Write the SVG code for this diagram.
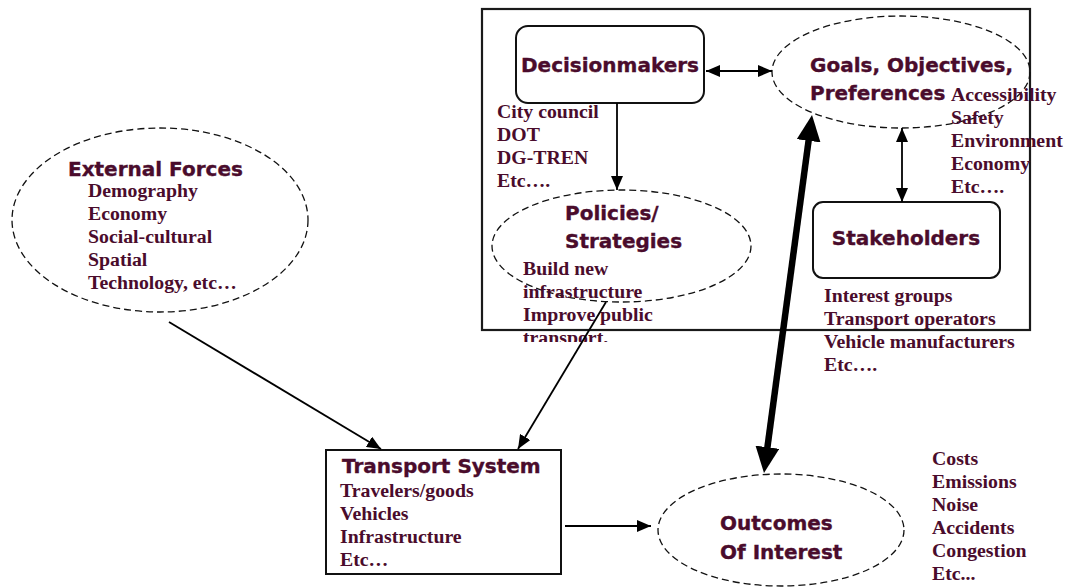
<svg xmlns="http://www.w3.org/2000/svg" width="1070" height="587" viewBox="0 0 1070 587">
  <style>
    .frame { fill: none; stroke: #1a1a1a; stroke-width: 2.2; }
    .box { fill: #ffffff; stroke: #111111; stroke-width: 2; }
    .oval { fill: none; stroke: #111111; stroke-width: 1.3; stroke-dasharray: 7 4; }
    .head { font-family: "DejaVu Sans", Verdana, sans-serif; font-weight: bold; font-size: 20px; fill: #4a0c2c; stroke: #4a0c2c; stroke-width: 0.35; }
    .item { font-family: "Liberation Serif", "Times New Roman", serif; font-weight: bold; font-size: 19.8px; fill: #4a0c2c; }
    .link { fill: none; stroke: #000000; stroke-width: 1.8; }
    .thick { fill: none; stroke: #000000; stroke-width: 6.5; }
  </style>
  <defs>
    <marker id="arrow" markerUnits="userSpaceOnUse" markerWidth="14" markerHeight="12" refX="14" refY="6" orient="auto-start-reverse">
      <path d="M0,0 L14,6 L0,12 z" fill="#000000"/>
    </marker>
    <marker id="bigArrow" markerUnits="userSpaceOnUse" markerWidth="26" markerHeight="24" refX="13" refY="12" orient="auto-start-reverse">
      <path d="M0,0 L26,12 L0,24 z" fill="#000000"/>
    </marker>
    <clipPath id="clipCity"><rect x="490" y="100" width="120" height="91"/></clipPath>
    <clipPath id="clipPolicy"><rect x="515" y="255" width="160" height="87"/></clipPath>
  </defs>

  <rect x="0" y="0" width="1070" height="587" fill="#ffffff"/>

  <!-- decision-making frame -->
  <rect id="frame" class="frame" x="482" y="9" width="548" height="321"/>

  <g id="decisionmakers">
    <rect class="box" x="516" y="26" width="188" height="77" rx="12" ry="12"/>
    <text class="head" x="610" y="72" text-anchor="middle">Decisionmakers</text>
    <g clip-path="url(#clipCity)">
      <text class="item" x="497" y="118">City council</text>
      <text class="item" x="497" y="141">DOT</text>
      <text class="item" x="497" y="164">DG-TREN</text>
      <text class="item" x="497" y="187">Etc….</text>
    </g>
  </g>

  <g id="goals">
    <ellipse class="oval" cx="901" cy="72" rx="129" ry="56"/>
    <text class="head" x="810" y="72">Goals, Objectives,</text>
    <text class="head" x="810" y="100">Preferences</text>
    <text class="item" x="951" y="101">Accessibility</text>
    <text class="item" x="951" y="124">Safety</text>
    <text class="item" x="951" y="147">Environment</text>
    <text class="item" x="951" y="170">Economy</text>
    <text class="item" x="951" y="193">Etc….</text>
  </g>

  <g id="policies">
    <ellipse class="oval" cx="621.5" cy="246" rx="129.5" ry="56"/>
    <text class="head" x="565" y="220">Policies/</text>
    <text class="head" x="565" y="248">Strategies</text>
    <g clip-path="url(#clipPolicy)">
      <text class="item" x="523" y="275">Build new</text>
      <text class="item" x="523" y="298">infrastructure</text>
      <text class="item" x="523" y="321">Improve public</text>
      <text class="item" x="523" y="344">transport.</text>
    </g>
  </g>

  <g id="stakeholders">
    <rect class="box" x="813" y="202" width="187" height="76" rx="10" ry="10"/>
    <text class="head" x="906" y="245" text-anchor="middle">Stakeholders</text>
    <text class="item" x="824" y="302">Interest groups</text>
    <text class="item" x="824" y="325">Transport operators</text>
    <text class="item" x="824" y="348">Vehicle manufacturers</text>
    <text class="item" x="824" y="371">Etc….</text>
  </g>

  <g id="external-forces">
    <ellipse class="oval" cx="160" cy="220" rx="148" ry="92"/>
    <text class="head" x="68" y="176">External Forces</text>
    <text class="item" x="88" y="197">Demography</text>
    <text class="item" x="88" y="220">Economy</text>
    <text class="item" x="88" y="243">Social-cultural</text>
    <text class="item" x="88" y="266">Spatial</text>
    <text class="item" x="88" y="289">Technology, etc…</text>
  </g>

  <g id="transport-system">
    <rect class="box" x="326" y="450" width="235" height="124"/>
    <text class="head" x="342" y="473">Transport System</text>
    <text class="item" x="340" y="497">Travelers/goods</text>
    <text class="item" x="340" y="520">Vehicles</text>
    <text class="item" x="340" y="543">Infrastructure</text>
    <text class="item" x="340" y="566">Etc…</text>
  </g>

  <g id="outcomes">
    <ellipse class="oval" cx="781" cy="530" rx="123" ry="56"/>
    <text class="head" x="720" y="530">Outcomes</text>
    <text class="head" x="720" y="559">Of Interest</text>
    <text class="item" x="932" y="465">Costs</text>
    <text class="item" x="932" y="488">Emissions</text>
    <text class="item" x="932" y="511">Noise</text>
    <text class="item" x="932" y="534">Accidents</text>
    <text class="item" x="932" y="557">Congestion</text>
    <text class="item" x="932" y="580">Etc...</text>
  </g>

  <g id="connectors">
    <line class="link" x1="706" y1="71" x2="772" y2="71" marker-start="url(#arrow)" marker-end="url(#arrow)"/>
    <line class="link" x1="617" y1="103" x2="617" y2="190" marker-end="url(#arrow)"/>
    <line class="link" x1="902" y1="128" x2="902" y2="202" marker-start="url(#arrow)" marker-end="url(#arrow)"/>
    <line class="link" x1="169" y1="322" x2="381" y2="449" marker-end="url(#arrow)"/>
    <line class="link" x1="606" y1="302" x2="518" y2="449" marker-end="url(#arrow)"/>
    <line class="link" x1="565" y1="526" x2="651" y2="526" marker-end="url(#arrow)"/>
    <line class="thick" x1="810.3" y1="127.9" x2="765.7" y2="460.1" marker-start="url(#bigArrow)" marker-end="url(#bigArrow)"/>
  </g>
</svg>
